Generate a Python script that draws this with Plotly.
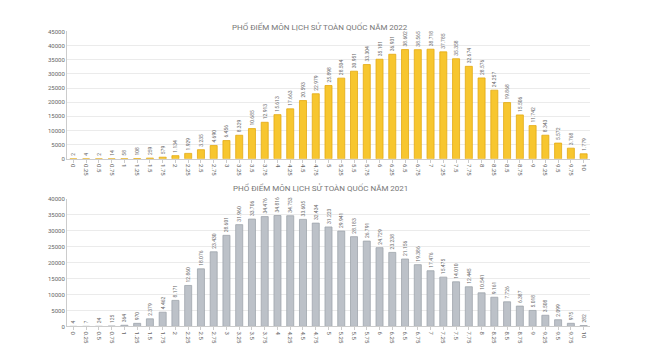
import plotly.graph_objects as go

categories = ["0","0.25","0.5","0.75","1","1.25","1.5","1.75","2","2.25","2.5","2.75",
              "3","3.25","3.5","3.75","4","4.25","4.5","4.75","5","5.25","5.5","5.75",
              "6","6.25","6.5","6.75","7","7.25","7.5","7.75","8","8.25","8.5","8.75",
              "9","9.25","9.5","9.75","10"]

values_2022 = [2, 4, 2, 14, 58, 108, 259, 579, 1134, 1929, 3235, 4690,
               6456, 8329, 10685, 12913, 15613, 17663, 20593, 22979, 25898, 28504, 30951, 33304,
               35181, 36931, 38602, 38565, 38718, 37785, 35358, 32674, 28576, 24257, 19868, 15506,
               11742, 8343, 5572, 3768, 1779]

values_2021 = [4, 7, 24, 125, 364, 970, 2379, 4462, 8171, 12860, 18076, 23430,
               28601, 31960, 33706, 34476, 34816, 34753, 33605, 32434, 31223, 29941, 28183, 26791,
               24729, 23238, 21156, 19386, 17476, 15475, 14010, 12445, 10541, 9161, 7726, 6387,
               5018, 3508, 2099, 975, 282]

title_2022 = "PHỔ ĐIỂM MÔN LỊCH SỬ TOÀN QUỐC NĂM 2022"
title_2021 = "PHỔ ĐIỂM MÔN LỊCH SỬ TOÀN QUỐC NĂM 2021"

FONT = "Roboto, Arial, sans-serif"

fig = go.Figure()
fig.add_trace(go.Bar(
    x=categories, y=values_2022, xaxis="x", yaxis="y",
    marker=dict(color="#F7C62F", line=dict(color="#E3AA12", width=0.8)),
    texttemplate="%{y:,}", textposition="outside", textangle=-90, constraintext="none",
    textfont=dict(size=5, color="#666", family=FONT), cliponaxis=False,
    showlegend=False))
fig.add_trace(go.Bar(
    x=categories, y=values_2021, xaxis="x2", yaxis="y2",
    marker=dict(color="#BCC1C8", line=dict(color="#9EA4AC", width=0.8)),
    texttemplate="%{y:,}", textposition="outside", textangle=-90, constraintext="none",
    textfont=dict(size=5, color="#666", family=FONT), cliponaxis=False,
    showlegend=False))

xdom = [67/660, 590/660]
axis_common = dict(showgrid=False, showline=True, linecolor="#ccc", linewidth=1,
                   ticks="outside", ticklen=3, tickcolor="#ccc", tickangle=90,
                   tickfont=dict(size=6, color="#666", family=FONT), type="category")
yaxis_common = dict(showgrid=True, gridcolor="#ebebeb", gridwidth=1, zeroline=False,
                    showline=True, linecolor="#ccc", linewidth=1, tickformat="d",
                    tickfont=dict(size=6, color="#666", family=FONT), ticks="", dtick=5000)

fig.update_layout(
    width=660, height=350,
    margin=dict(l=0, r=0, t=0, b=0),
    paper_bgcolor="white", plot_bgcolor="white",
    separators=",.",
    bargap=0.45,
    xaxis=dict(domain=xdom, anchor="y", **axis_common),
    yaxis=dict(domain=[1-158/350, 1-28/350], anchor="x", range=[0, 45000], **yaxis_common),
    xaxis2=dict(domain=xdom, anchor="y2", **axis_common),
    yaxis2=dict(domain=[1-329/350, 1-199/350], anchor="x2", range=[0, 40000], **yaxis_common),
    annotations=[
        dict(text=title_2022, x=320/660, y=1-16/350, xref="paper", yref="paper",
             showarrow=False, font=dict(size=8, color="#777", family=FONT)),
        dict(text=title_2021, x=320/660, y=1-188/350, xref="paper", yref="paper",
             showarrow=False, font=dict(size=8, color="#777", family=FONT)),
    ],
)

fig.write_html("out.html")
